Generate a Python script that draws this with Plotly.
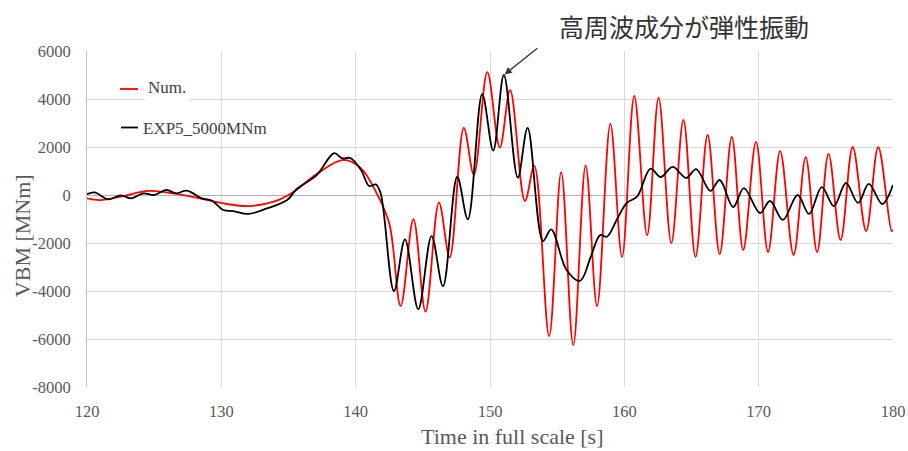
import plotly.graph_objects as go

# Numerical simulation (red) – time [s] and vertical bending moment [MNm]
num_t = [120.0, 121.0, 122.5, 124.6, 126.4, 128.4, 130.4, 132.1, 133.9, 135.4,
         137.1, 139.1, 140.4, 141.5, 142.5, 143.35, 144.3, 145.2, 146.2, 147.0,
         148.05, 148.8, 149.8, 150.73, 151.5, 152.6, 153.3, 154.4, 155.3, 156.2,
         157.12, 157.97, 158.96, 159.83, 160.74, 161.7, 162.55, 163.5, 164.4, 165.3,
         166.2, 167.1, 168.0, 168.85, 169.8, 170.7, 171.6, 172.6, 173.5, 174.35,
         175.2, 176.1, 177.0, 178.0, 178.9, 179.9, 180.0]
num_v = [-140, -210, -70, 170, 70, -140, -375, -460, -280, 140,
         875, 1460, 1110, 140, -1180, -4625, -1010, -4860, -320, -2600,
         2800, 850, 5120, 1970, 4370, -250, 1210, -5875, 950, -6250,
         1230, -4625, 2960, -2580, 4125, -1670, 4060, -2000, 3125, -2580,
         2500, -2460, 2420, -2290, 2210, -2375, 1830, -2500, 1580, -2375,
         1710, -1875, 2000, -1500, 2000, -1500, -1450]

# Experiment EXP5 (black)
exp_t = [120.0, 120.55, 121.6, 122.5, 123.3, 124.2, 125.0, 125.9, 126.64, 127.43,
         128.55, 129.3, 130.16, 130.9, 132.0, 133.4, 134.9, 135.6, 137.1, 138.39,
         139.0, 139.6, 140.4, 141.0, 141.5, 141.86, 142.85, 143.67, 144.66, 145.65,
         146.5, 147.56, 148.35, 149.42, 150.24, 151.03, 152.07, 152.8, 153.95, 154.55,
         155.7, 156.7, 157.5, 158.2, 158.7, 159.5, 160.2, 160.95, 161.95, 162.7,
         163.6, 164.6, 165.35, 166.4, 167.1, 168.1, 168.9, 170.1, 170.85, 171.8,
         172.9, 173.75, 174.7, 175.6, 176.5, 177.4, 178.2, 179.2, 180.0]
exp_v = [30, 110, -180, -15, -140, 70, 0, 210, 70, 180,
         -140, -240, -625, -670, -790, -560, -210, 240, 830, 1740,
         1530, 1540, 1040, 375, 440, 70, -4000, -1850, -4760, -1710,
         -3800, 760, -1010, 4200, 1850, 5000, 720, 2800, -1920, -1430,
         -3125, -3580, -2580, -1670, -1740, -960, -320, -70, 1100, 750,
         1170, 710, 1080, 170, 625, -500, 290, -750, -250, -1040,
         0, -790, 330, -460, 500, -330, 460, -375, 420]

x_ticks = [120, 130, 140, 150, 160, 170, 180]
x_tick_labels = ["120", "130", "140", "150", "160", "170", "180"]
y_ticks = [-8000, -6000, -4000, -2000, 0, 2000, 4000, 6000]
y_tick_labels = ["-8000", "-6000", "-4000", "-2000", "0", "2000", "4000", "6000"]

series_names = ["Num.", "EXP5_5000MNm"]
series_colors = ["#ff0000", "#000000"]
note_text = "高周波成分が弾性振動"
peak_t, peak_v = 151.03, 5000  # elastic-vibration peak of the experiment

SERIF = "Liberation Serif, Times New Roman, serif"
GREY = "#595959"

fig = go.Figure()
fig.add_trace(go.Scatter(x=num_t, y=num_v, mode="lines", name=series_names[0],
                         line=dict(color=series_colors[0], width=1.8, shape="spline", smoothing=1.0)))
fig.add_trace(go.Scatter(x=exp_t, y=exp_v, mode="lines", name=series_names[1],
                         line=dict(color=series_colors[1], width=1.8, shape="spline", smoothing=1.0)))

annotations = [
    # axis titles
    dict(text="VBM [MNm]", xref="paper", yref="paper", x=-0.0806, y=0.449,
         xanchor="center", yanchor="middle",
         textangle=-90, showarrow=False, font=dict(family=SERIF, size=22, color=GREY)),
    dict(text="Time in full scale [s]", xref="paper", yref="paper", x=0.5285, y=-0.1488,
         xanchor="center", yanchor="middle",
         showarrow=False, font=dict(family=SERIF, size=22, color=GREY)),
    # callout
    dict(text=note_text, xref="paper", yref="paper", x=0.7407, y=1.0744,
         xanchor="center", yanchor="middle", showarrow=False,
         font=dict(family="Noto Sans CJK JP", size=25, color="#333333")),
    dict(text="", x=peak_t, y=peak_v, xref="x", yref="y", showarrow=True,
         ax=35, ay=-28, arrowhead=2, arrowsize=1.1, arrowwidth=1.3, arrowcolor="#333333",
         standoff=1),
    # legend entries
    dict(text=series_names[0], xref="paper", yref="paper", x=0.0707, y=0.8899,
         xanchor="left", yanchor="middle", showarrow=False, bgcolor="white", borderpad=3,
         font=dict(family=SERIF, size=17, color="#404040")),
    dict(text=series_names[1], xref="paper", yref="paper", x=0.067, y=0.7708,
         xanchor="left", yanchor="middle", showarrow=False,
         font=dict(family=SERIF, size=17, color="#404040")),
]

shapes = [
    dict(type="line", xref="paper", yref="paper", x0=0.0409, x1=0.0633, y0=0.8869, y1=0.8869,
         line=dict(color=series_colors[0], width=1.8)),
    dict(type="line", xref="paper", yref="paper", x0=0.0422, x1=0.0633, y0=0.7723, y1=0.7723,
         line=dict(color=series_colors[1], width=1.8)),
]

fig.update_layout(
    width=908, height=451,
    margin=dict(l=87, r=15, t=51, b=64, autoexpand=False),
    paper_bgcolor="white", plot_bgcolor="white",
    showlegend=False,
    annotations=annotations,
    shapes=shapes,
    xaxis=dict(range=[120, 180], tickvals=x_ticks, ticktext=x_tick_labels,
               showgrid=True, gridcolor="#d9d9d9", gridwidth=1, zeroline=False,
               showline=False, ticks="", ticklabelstandoff=12, automargin=False,
               tickfont=dict(family=SERIF, size=16.5, color=GREY)),
    yaxis=dict(range=[-8000, 6000], tickvals=y_ticks, ticktext=y_tick_labels,
               showgrid=True, gridcolor="#d9d9d9", gridwidth=1,
               zeroline=True, zerolinecolor="#b3b3b3", zerolinewidth=1,
               showline=True, linecolor="#bfbfbf", linewidth=1, ticks="",
               ticklabelstandoff=12, automargin=False,
               tickfont=dict(family=SERIF, size=16.5, color=GREY)),
)

fig.write_html("out.html")
